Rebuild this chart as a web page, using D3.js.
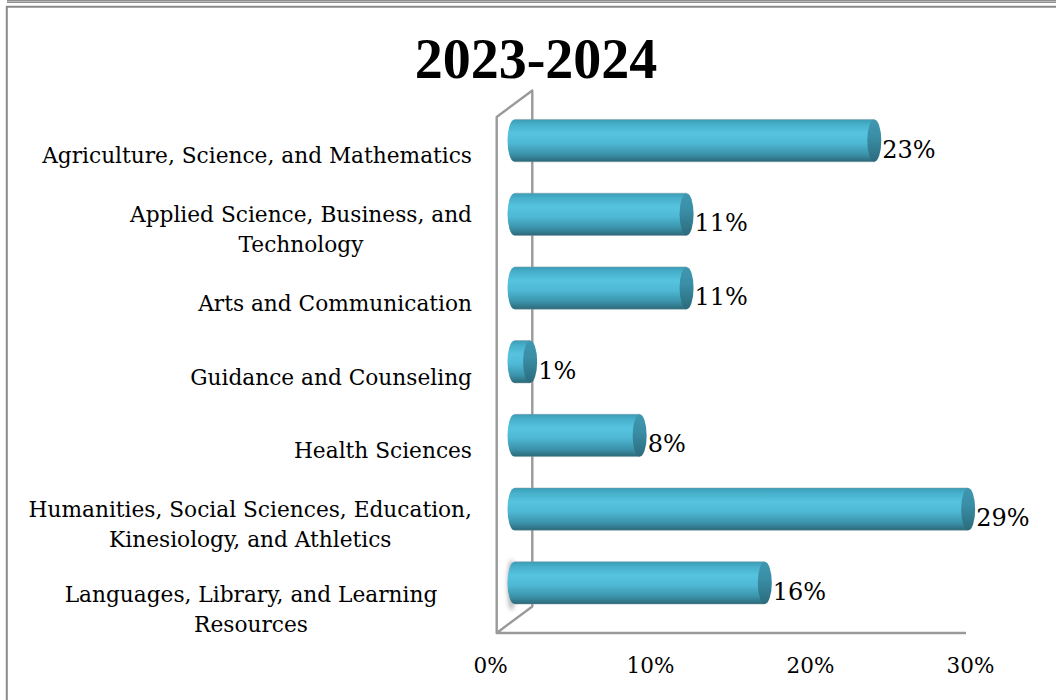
<!DOCTYPE html>
<html>
<head>
<meta charset="utf-8">
<script src="https://cdn.jsdelivr.net/npm/d3@7/dist/d3.min.js"></script>
<style>
  html, body { margin: 0; padding: 0; background: #ffffff; }
  svg { display: block; }
</style>
</head>
<body>
<svg id="chart" width="1056" height="700"></svg>
<script>
// Share of courses by division, 2023-2024
const title = "2023-2024";
const categories = [
  "Agriculture, Science, and Mathematics",
  "Applied Science, Business, and Technology",
  "Arts and Communication",
  "Guidance and Counseling",
  "Health Sciences",
  "Humanities, Social Sciences, Education, Kinesiology, and Athletics",
  "Languages, Library, and Learning Resources"
];
const categoryLines = [
  ["Agriculture, Science, and Mathematics"],
  ["Applied Science, Business, and", "Technology"],
  ["Arts and Communication"],
  ["Guidance and Counseling"],
  ["Health Sciences"],
  ["Humanities, Social Sciences, Education,", "Kinesiology, and Athletics"],
  ["Languages, Library, and Learning", "Resources"]
];
const values = [0.23, 0.11, 0.11, 0.01, 0.08, 0.29, 0.16];
const tickValues = [0, 0.10, 0.20, 0.30];

// ---- layout ----
const W = 1056, H = 700;
const plot = { left: 496.7, right: 966, top: 117, bottom: 633 };
const depth = { dx: 35.6, dy: -26.5 };       // offset of the back wall
const labelRight = 472, labelCenter = 251;
// the last wrapped label sits centred in the label column and a little lower
const centeredBlocks = new Set([categories[6]]);
const blockShift = new Map([[categories[6], 11]]);
const serif = "'DejaVu Serif', serif";

const svg = d3.select("#chart");
const defs = svg.append("defs");

// body gradient of the cylinders
const gBody = defs.append("linearGradient").attr("id", "cylBody")
  .attr("x1", 0).attr("y1", 0).attr("x2", 0).attr("y2", 1);
[[0, "#3b9cb6"], [0.12, "#47b0cb"], [0.32, "#56c3df"], [0.55, "#4fb9d5"],
 [0.82, "#3b93ab"], [1, "#2c6878"]].forEach(([o, c]) =>
  gBody.append("stop").attr("offset", o).attr("stop-color", c));

const gCap = defs.append("linearGradient").attr("id", "cylCap")
  .attr("x1", 0).attr("y1", 0).attr("x2", 0).attr("y2", 1);
[[0, "#3f98b0"], [0.4, "#3a8ea6"], [1, "#2b6b7c"]].forEach(([o, c]) =>
  gCap.append("stop").attr("offset", o).attr("stop-color", c));

defs.append("filter").attr("id", "soft").attr("x", "-200%").attr("y", "-50%")
  .attr("width", "500%").attr("height", "200%")
  .append("feGaussianBlur").attr("stdDeviation", 2.2);

// ---- page frame ----
svg.append("rect").attr("x", 7).attr("y", 0).attr("width", W - 7).attr("height", 3)
  .attr("fill", "#8e8e8e");
svg.append("line").attr("x1", 7).attr("x2", W).attr("y1", 1.5).attr("y2", 1.5)
  .attr("stroke", "#c8c8c8").attr("stroke-width", 0.8);
svg.append("path")
  .attr("d", `M6.8,${H} V6.8 H${W}`)
  .attr("fill", "none").attr("stroke", "#8a8a8a").attr("stroke-width", 2);

// ---- title ----
svg.append("text")
  .attr("x", 536).attr("y", 78)
  .attr("text-anchor", "middle")
  .attr("font-family", "'Liberation Serif', serif")
  .attr("font-weight", "bold")
  .attr("font-size", 56)
  .attr("fill", "#000")
  .text(title);

// ---- scales ----
const x = d3.scaleLinear().domain([0, 0.30]).range([plot.left, plot.right]);
const xTick = d3.scaleLinear().domain([0, 0.30]).range([490, 970]);
const y = d3.scaleBand().domain(categories).range([plot.top, plot.bottom]).padding(0);
const bw = y.bandwidth();
const ry = bw * 0.287;   // cylinder half-height
const rx = 7;            // cylinder end ellipse half-width
const midDx = depth.dx / 2, midDy = depth.dy / 2;

// ---- 3D walls ----
const wall = svg.append("g").attr("fill", "none").attr("stroke", "#9a9a9a")
  .attr("stroke-width", 2.4).attr("stroke-linejoin", "round");
wall.append("path").attr("d",
  `M${plot.left},${plot.bottom} V${plot.top} L${plot.left + depth.dx},${plot.top + depth.dy}` +
  ` V${plot.bottom + depth.dy} L${plot.left},${plot.bottom} H${plot.right}`);

// ---- cylinders ----
const bars = svg.append("g");
categories.forEach((c, i) => {
  const v = values[i];
  const cy = y(c) + bw / 2 + midDy;
  const x0 = x(0) + midDx;
  const x1 = x(v) + midDx;
  const g = bars.append("g");

  if (i === categories.length - 1) {
    g.append("ellipse").attr("cx", x0 - 3).attr("cy", cy + 2)
      .attr("rx", 4).attr("ry", ry + 4)
      .attr("fill", "#777").attr("opacity", 0.55).attr("filter", "url(#soft)");
  }

  // body with rounded left end
  g.append("path")
    .attr("d",
      `M${x1},${cy - ry} H${x0} A${rx},${ry} 0 0 0 ${x0},${cy + ry} H${x1} Z`)
    .attr("fill", "url(#cylBody)");
  // faint outline on top and bottom
  g.append("path")
    .attr("d", `M${x0},${cy - ry} H${x1} M${x0},${cy + ry} H${x1}`)
    .attr("stroke", "#7f9aa2").attr("stroke-width", 0.8).attr("opacity", 0.6);
  // end cap
  g.append("ellipse")
    .attr("cx", x1).attr("cy", cy).attr("rx", rx).attr("ry", ry)
    .attr("fill", "url(#cylCap)");

  // value label
  svg.append("text")
    .attr("x", x1 + rx + 1)
    .attr("y", cy + 9)
    .attr("dominant-baseline", "central")
    .attr("font-family", serif)
    .attr("font-size", 24)
    .attr("fill", "#000")
    .text(d3.format(".0%")(v));
});

// ---- category labels ----
const lineH = 30;
const labels = svg.append("g").attr("font-family", serif).attr("font-size", 21.7).attr("fill", "#000");
categories.forEach((c, i) => {
  const lines = categoryLines[i];
  const cy = y(c) + bw / 2 + 2 + (blockShift.get(c) || 0);
  const t = labels.append("text").attr("text-anchor", "middle");
  const spans = lines.map((ln, k) =>
    t.append("tspan").attr("y", cy + (k - (lines.length - 1) / 2) * lineH)
      .attr("dominant-baseline", "central").text(ln));
  const wMax = d3.max(spans, s => s.node().getComputedTextLength());
  const cx = centeredBlocks.has(c) ? labelCenter : labelRight - wMax / 2;
  spans.forEach(s => s.attr("x", cx));
});

// ---- value axis ----
const axis = d3.axisBottom(xTick).tickValues(tickValues)
  .tickFormat(d3.format(".0%")).tickSize(0).tickPadding(0);
const ax = svg.append("g").attr("transform", "translate(0,656)").call(axis);
ax.select(".domain").remove();
ax.selectAll("text")
  .attr("font-family", serif).attr("font-size", 21.5).attr("fill", "#000")
  .attr("dy", "0.8em");
</script>
</body>
</html>
